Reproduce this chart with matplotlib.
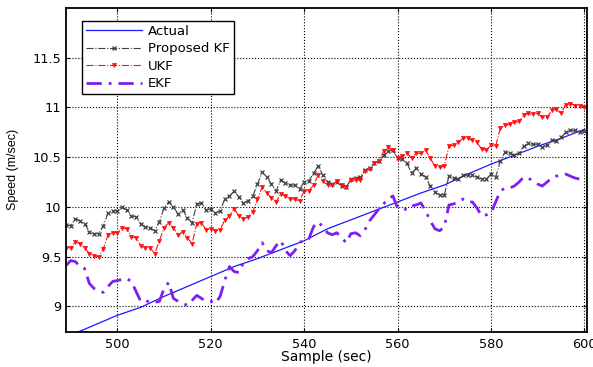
import matplotlib
matplotlib.use('Agg')
import matplotlib.pyplot as plt
import numpy as np

plt.rc('font', family=['DejaVu Sans'], size=9.5)

# samples 489..600
samples = np.arange(489, 601)

kf = [9.82, 9.81, 9.88, 9.86, 9.83, 9.75, 9.73, 9.73, 9.81, 9.94,
      9.96, 9.96, 10.00, 9.97, 9.91, 9.90, 9.83, 9.80, 9.79, 9.76,
      9.85, 9.99, 10.05, 10.00, 9.93, 9.97, 9.89, 9.84, 10.03, 10.04,
      9.97, 9.98, 9.94, 9.96, 10.08, 10.11, 10.16, 10.10, 10.04, 10.06,
      10.11, 10.23, 10.35, 10.30, 10.23, 10.16, 10.27, 10.24, 10.22, 10.22,
      10.18, 10.25, 10.26, 10.34, 10.41, 10.32, 10.25, 10.23, 10.25, 10.21,
      10.20, 10.28, 10.29, 10.30, 10.37, 10.39, 10.44, 10.46, 10.52, 10.56,
      10.57, 10.49, 10.48, 10.44, 10.34, 10.39, 10.33, 10.30, 10.21, 10.15,
      10.12, 10.12, 10.31, 10.29, 10.28, 10.32, 10.32, 10.32, 10.30, 10.28,
      10.28, 10.33, 10.30, 10.46, 10.55, 10.54, 10.52, 10.54, 10.61, 10.64,
      10.63, 10.63, 10.60, 10.62, 10.67, 10.66, 10.70, 10.75, 10.77, 10.77,
      10.75, 10.76]

ukf = [9.59, 9.59, 9.65, 9.63, 9.59, 9.53, 9.51, 9.50, 9.58, 9.72,
       9.74, 9.74, 9.79, 9.78, 9.70, 9.69, 9.61, 9.59, 9.59, 9.53,
       9.66, 9.79, 9.84, 9.79, 9.72, 9.75, 9.69, 9.63, 9.83, 9.84,
       9.77, 9.78, 9.76, 9.77, 9.87, 9.91, 9.98, 9.91, 9.88, 9.90,
       9.95, 10.08, 10.20, 10.14, 10.09, 10.05, 10.13, 10.11, 10.08, 10.08,
       10.06, 10.16, 10.16, 10.22, 10.32, 10.26, 10.22, 10.22, 10.26, 10.22,
       10.20, 10.27, 10.27, 10.27, 10.36, 10.38, 10.44, 10.46, 10.56, 10.60,
       10.57, 10.49, 10.51, 10.54, 10.49, 10.54, 10.54, 10.57, 10.49, 10.41,
       10.40, 10.41, 10.61, 10.62, 10.65, 10.69, 10.69, 10.67, 10.65, 10.58,
       10.57, 10.62, 10.61, 10.79, 10.82, 10.83, 10.85, 10.86, 10.92, 10.94,
       10.93, 10.94, 10.90, 10.90, 10.97, 10.98, 10.94, 11.03, 11.04, 11.02,
       11.02, 11.01]

ekf = [9.41, 9.46, 9.45, 9.40, 9.38, 9.23, 9.18, 9.16, 9.14, 9.20,
       9.25, 9.26, 9.27, 9.28, 9.25, 9.15, 9.05, 9.06, 9.04, 9.04,
       9.05, 9.18, 9.24, 9.08, 9.05, 9.03, 9.01, 9.06, 9.11, 9.08,
       9.05, 9.05, 9.03, 9.10, 9.26, 9.40, 9.35, 9.34, 9.44, 9.48,
       9.50, 9.56, 9.64, 9.56, 9.54, 9.61, 9.66, 9.56, 9.51, 9.56,
       9.64, 9.67, 9.68, 9.80, 9.85, 9.80, 9.74, 9.72, 9.74, 9.69,
       9.64, 9.73, 9.74, 9.71, 9.77, 9.86, 9.92, 9.98, 10.03, 10.08,
       10.11, 9.99, 9.99, 9.97, 10.01, 10.02, 10.04, 9.96, 9.86, 9.78,
       9.76, 9.80, 10.02, 10.03, 10.05, 10.08, 10.05, 10.05, 9.99, 9.91,
       9.92, 9.94, 10.05, 10.16, 10.19, 10.19, 10.21, 10.25, 10.30, 10.29,
       10.26, 10.23, 10.21, 10.25, 10.29, 10.31, 10.32, 10.33, 10.31, 10.29,
       10.28, 10.27]

# actual speed, read every 5 samples
act_samples = [489, 495, 500, 505, 510, 515, 520, 525, 530, 535, 540, 545,
               550, 555, 560, 565, 570, 575, 580, 585, 590, 595, 600]
actual = [8.69, 8.81, 8.91, 8.99, 9.10, 9.20, 9.30, 9.40, 9.48, 9.57, 9.66, 9.78,
          9.87, 9.96, 10.05, 10.14, 10.22, 10.33, 10.43, 10.52, 10.61, 10.69, 10.78]

xticks = [500, 520, 540, 560, 580, 600]
yticks = [9, 9.5, 10, 10.5, 11, 11.5]
ytick_labels = ['9', '9.5', '10', '10.5', '11', '11.5']

fig = plt.figure(figsize=(5.93, 3.67), dpi=100)
ax = fig.add_axes([0.1113, 0.0962, 0.8781, 0.8818])

ax.plot(act_samples, actual, '-', color='#1a1aff', lw=0.9, label='Actual')
ax.plot(samples, kf, linestyle='-.', color='#404040', lw=0.8, marker='x',
        markersize=3.5, markeredgewidth=0.9, label='Proposed KF')
ax.plot(samples, ukf, linestyle='-.', color='#ff1010', lw=0.8, marker='v',
        markersize=3, markeredgewidth=0.5, label='UKF')
ax.plot(samples, ekf, linestyle=(0, (5.5, 2.5, 1, 2.5)), color='#7f1fef', lw=2.0,
        label='EKF')

ax.set_xlim(489, 600.5)
ax.set_ylim(8.745, 12.0)
ax.set_xticks(xticks)
ax.set_yticks(yticks)
ax.set_yticklabels(ytick_labels)
ax.grid(True, color='black', linestyle=':', linewidth=0.8)
ax.tick_params(direction='in', length=3, width=0.8, top=True, right=True, labelsize=9.3)
ax.tick_params(axis='x', pad=4.5)
for sp in ax.spines.values():
    sp.set_linewidth(1.3)

ax.set_xlabel('Sample (sec)', fontsize=10, labelpad=-1)
ax.set_ylabel('Speed (m/sec)', fontsize=9, family='Liberation Sans', labelpad=10)

leg = ax.legend(loc='upper left', bbox_to_anchor=(0.031, 0.96), fancybox=False,
                framealpha=1, edgecolor='black', handlelength=4.2, borderpad=0.3,
                labelspacing=0.34, handletextpad=0.5, fontsize=9.5,
                borderaxespad=0)
leg.get_frame().set_linewidth(1.0)

fig.savefig('out.png', dpi=100)
